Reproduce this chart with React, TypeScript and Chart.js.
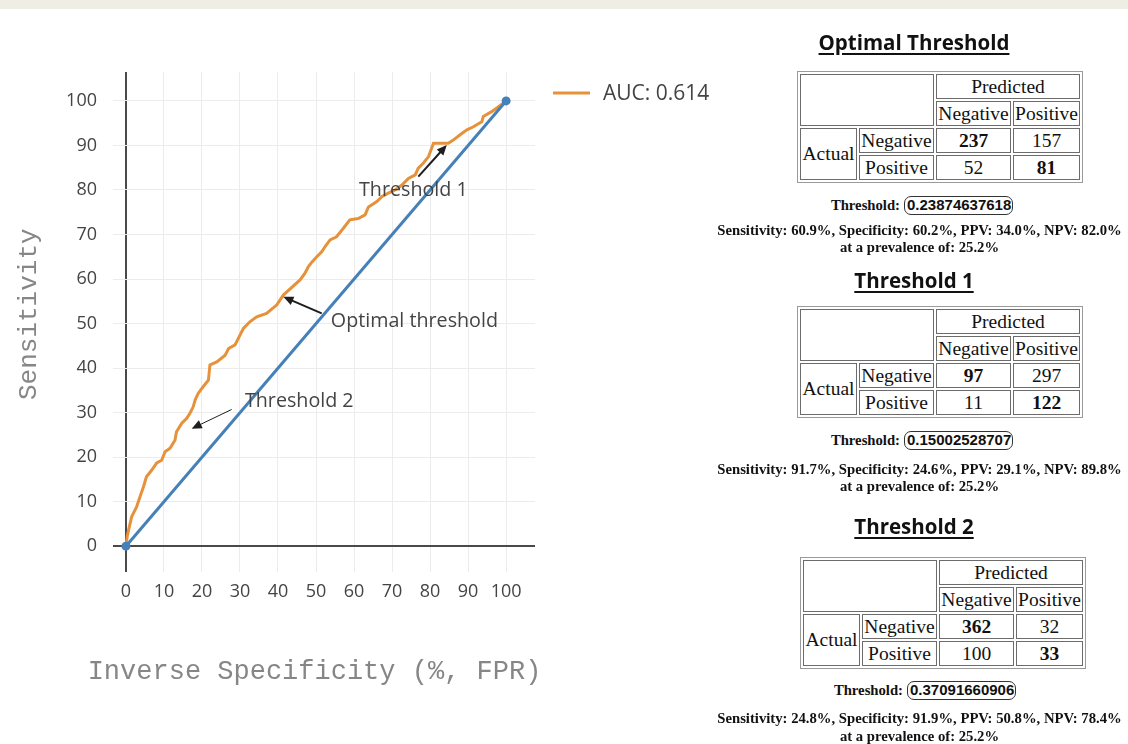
import React, { useEffect, useRef } from 'react';
import { Chart, registerables } from 'chart.js';

Chart.register(...registerables);

// ---------- ROC data ----------
const fprValues = [
  0, 0.4, 1.5, 2.8, 3.7, 4.6, 5.4, 6.8, 8.1, 9.4, 10.3, 11.6, 12.9, 13.3, 14.7, 16.0, 16.8, 17.7,
  18.2, 19.0, 20.3, 21.7, 22.1, 23.9, 26.1, 27.0, 28.7, 30.0, 30.9, 32.6, 34.4, 37.0, 39.7, 41.4,
  45.8, 47.1, 48.0, 48.9, 50.2, 51.5, 52.4, 53.7, 55.4, 57.2, 58.9, 61.1, 62.9, 63.8, 66.0, 67.3,
  69.0, 70.8, 72.6, 74.3, 76.1, 76.9, 78.2, 79.6, 80.9, 84.8, 86.1, 87.9, 89.7, 91.4, 93.6, 94.0,
  96.2, 98.0, 99.7, 100,
];
const tprValues = [
  0, 2.5, 6.6, 8.8, 11.1, 13.3, 15.6, 17.1, 18.7, 19.3, 21.2, 22.0, 23.8, 25.7, 27.6, 28.7, 29.8, 31.3,
  32.8, 34.3, 35.8, 37.3, 40.7, 41.4, 42.9, 44.4, 45.2, 47.4, 48.9, 50.4, 51.5, 52.3, 54.2, 56.4,
  59.8, 61.3, 62.8, 63.8, 65.0, 66.1, 67.3, 68.8, 69.5, 71.4, 73.3, 73.6, 74.4, 76.2, 77.4, 78.5,
  79.3, 80.0, 81.1, 82.6, 83.4, 84.9, 86.0, 87.5, 90.5, 90.5, 91.2, 92.4, 93.5, 94.2, 95.3, 96.5,
  97.6, 98.7, 99.8, 100,
];
const chanceX = [0, 100];
const chanceY = [0, 100];
const xTickValues = [0, 10, 20, 30, 40, 50, 60, 70, 80, 90, 100];
const yTickValues = [0, 10, 20, 30, 40, 50, 60, 70, 80, 90, 100];
const legendLabel = 'AUC: 0.614';
const xTitle = 'Inverse Specificity (%, FPR)';
const yTitle = 'Sensitivity';

// annotation texts and arrow anchors (data coordinates)
const annotationTexts = ['Threshold 1', 'Optimal threshold', 'Threshold 2'];
const annotationTextX = [75.6, 53.9, 31.3];
const annotationTextY = [80.0, 50.6, 32.6];
const annotationAlign = ['center', 'left', 'left'];
const arrowFromX = [76.9, 51.5, 27.8];
const arrowFromY = [83.0, 52.3, 30.7];
const arrowToX = [84.4, 41.4, 17.3];
const arrowToY = [90.1, 56.0, 26.4];
const arrowWidth = [2, 2, 1];

// ---------- confusion-matrix panels ----------
const panelTitles = ['Optimal Threshold', 'Threshold 1', 'Threshold 2'];
const trueNegatives = [237, 97, 362];
const falsePositives = [157, 297, 32];
const falseNegatives = [52, 11, 100];
const truePositives = [81, 122, 33];
const thresholdValues = ['0.23874637618', '0.15002528707', '0.37091660906'];
const sensitivityValues = ['60.9', '91.7', '24.8'];
const specificityValues = ['60.2', '24.6', '91.9'];
const ppvValues = ['34.0', '29.1', '50.8'];
const npvValues = ['82.0', '89.8', '78.4'];
const prevalenceValue = '25.2';

const ORANGE = '#e5923a';
const BLUE = 'rgb(70,128,184)';
const TEXT = '#444';
const TITLE_GRAY = '#868686';
const MONO = '"Liberation Mono", "Courier New", monospace';

const CANVAS_W = 760;
const CANVAS_H = 744;

const panelLayout = [
  { titleTop: 27.5, tableLeft: 797, tableTop: 71, boxLeft: 904, boxTop: 196, statsCenter: 230.7 },
  { titleTop: 266.3, tableLeft: 797, tableTop: 306, boxLeft: 904, boxTop: 430.5, statsCenter: 469.5 },
  { titleTop: 512, tableLeft: 800, tableTop: 557, boxLeft: 907, boxTop: 680.5, statsCenter: 719 },
];

const overlayPlugin = {
  id: 'rocOverlay',
  afterDraw(chart: any) {
    const { ctx, chartArea } = chart;
    const xs = chart.scales.x;
    const ys = chart.scales.y;
    ctx.save();
    // annotations with arrows
    annotationTexts.forEach((txt, i) => {
      const x1 = xs.getPixelForValue(arrowFromX[i]);
      const y1 = ys.getPixelForValue(arrowFromY[i]);
      const x2 = xs.getPixelForValue(arrowToX[i]);
      const y2 = ys.getPixelForValue(arrowToY[i]);
      const ang = Math.atan2(y2 - y1, x2 - x1);
      const head = 11;
      ctx.strokeStyle = '#1e1e1e';
      ctx.fillStyle = '#1e1e1e';
      ctx.lineWidth = arrowWidth[i];
      ctx.beginPath();
      ctx.moveTo(x1, y1);
      ctx.lineTo(x2 - Math.cos(ang) * head * 0.7, y2 - Math.sin(ang) * head * 0.7);
      ctx.stroke();
      ctx.beginPath();
      ctx.moveTo(x2, y2);
      ctx.lineTo(x2 - head * Math.cos(ang - 0.42), y2 - head * Math.sin(ang - 0.42));
      ctx.lineTo(x2 - head * Math.cos(ang + 0.42), y2 - head * Math.sin(ang + 0.42));
      ctx.closePath();
      ctx.fill();
      ctx.font = '19.7px "Open Sans"';
      ctx.fillStyle = TEXT;
      ctx.textAlign = annotationAlign[i];
      ctx.textBaseline = 'middle';
      ctx.fillText(txt, xs.getPixelForValue(annotationTextX[i]), ys.getPixelForValue(annotationTextY[i]));
    });
    // x axis title (drawn without width compression)
    ctx.font = '27px ' + MONO;
    ctx.fillStyle = TITLE_GRAY;
    ctx.textAlign = 'center';
    ctx.textBaseline = 'middle';
    ctx.fillText(xTitle, (chartArea.left + chartArea.right) / 2 - 9.5, chartArea.bottom + 100);
    // legend
    const ly = chartArea.top + 21;
    ctx.strokeStyle = ORANGE;
    ctx.lineWidth = 3;
    ctx.beginPath();
    ctx.moveTo(chartArea.right + 18, ly);
    ctx.lineTo(chartArea.right + 55, ly);
    ctx.stroke();
    ctx.font = '21px "Open Sans"';
    ctx.fillStyle = TEXT;
    ctx.textAlign = 'left';
    ctx.textBaseline = 'middle';
    ctx.fillText(legendLabel, chartArea.right + 68, ly + 1);
    ctx.restore();
  },
};

function RocChart() {
  const ref = useRef<HTMLCanvasElement | null>(null);
  useEffect(() => {
    if (!ref.current) return;
    const zeroColor = (c: any) => (c.tick && c.tick.value === 0 ? '#4a4a4a' : '#ececec');
    const zeroWidth = (c: any) => (c.tick && c.tick.value === 0 ? 2 : 1);
    const chart = new Chart(ref.current, {
      type: 'line',
      data: {
        datasets: [
          {
            label: 'Chance',
            data: chanceX.map((x, i) => ({ x, y: chanceY[i] })),
            borderColor: BLUE,
            backgroundColor: BLUE,
            borderWidth: 3,
            pointRadius: 4.5,
            pointBorderWidth: 0,
            pointBackgroundColor: BLUE,
          },
          {
            label: legendLabel,
            data: fprValues.map((x, i) => ({ x, y: tprValues[i] })),
            borderColor: ORANGE,
            backgroundColor: ORANGE,
            borderWidth: 3,
            pointRadius: 0,
            tension: 0,
          },
        ],
      },
      options: {
        animation: false,
        responsive: false,
        maintainAspectRatio: false,
        layout: { padding: { top: 72, right: CANVAS_W - 535, left: 0, bottom: 0 } },
        plugins: { legend: { display: false }, tooltip: { enabled: false } },
        scales: {
          x: {
            type: 'linear',
            min: -3.4,
            max: 107.6,
            afterBuildTicks: (axis: any) => {
              axis.ticks = xTickValues.map((v) => ({ value: v }));
            },
            afterFit: (scale: any) => {
              scale.height = CANVAS_H - 572;
            },
            border: { display: false },
            grid: { color: zeroColor, lineWidth: zeroWidth, drawTicks: false },
            ticks: {
              padding: 9,
              color: TEXT,
              font: { family: '"Open Sans"', size: 18 },
              maxRotation: 0,
              autoSkip: false,
            },
            title: { display: false },
          },
          y: {
            type: 'linear',
            min: -5.8,
            max: 106.5,
            afterBuildTicks: (axis: any) => {
              axis.ticks = yTickValues.map((v) => ({ value: v }));
            },
            afterFit: (scale: any) => {
              scale.width = 113;
            },
            border: { display: false },
            grid: { color: zeroColor, lineWidth: zeroWidth, drawTicks: false },
            ticks: {
              padding: 16,
              color: TEXT,
              font: { family: '"Open Sans"', size: 18 },
              autoSkip: false,
            },
            title: {
              display: true,
              text: ' ' + yTitle,
              color: TITLE_GRAY,
              font: { family: MONO, size: 26 },
              padding: { top: 14, bottom: 0 },
            },
          },
        },
      },
      plugins: [overlayPlugin],
    } as any);
    return () => chart.destroy();
  }, []);
  return (
    <canvas
      ref={ref}
      width={CANVAS_W}
      height={CANVAS_H}
      style={{ position: 'absolute', left: 0, top: 0, width: CANVAS_W, height: CANVAS_H, display: 'block' }}
    />
  );
}

const serif = '"Liberation Serif", "Times New Roman", serif';

function Matrix({ left, top, i }: { left: number; top: number; i: number }) {
  const cell = (col: string, row: string, extra: any = {}) => ({
    gridColumn: col,
    gridRow: row,
    boxSizing: 'border-box' as const,
    border: '1px solid #6c6c6c',
    display: 'flex',
    alignItems: 'center',
    justifyContent: 'center',
    whiteSpace: 'nowrap' as const,
    ...extra,
  });
  return (
    <div
      style={{
        position: 'absolute',
        left,
        top,
        border: '1px solid #9a9a9a',
        padding: 2,
        display: 'grid',
        gridTemplateColumns: '57px 75px 75px 67px',
        gridTemplateRows: '25px 25px 25px 25px',
        gap: 2,
        fontFamily: serif,
        fontSize: 19.5,
        color: '#111',
        background: '#fff',
      }}
    >
      <div style={cell('1 / 3', '1 / 3')}></div>
      <div style={cell('3 / 5', '1 / 2')}>Predicted</div>
      <div style={cell('3 / 4', '2 / 3')}>Negative</div>
      <div style={cell('4 / 5', '2 / 3')}>Positive</div>
      <div style={cell('1 / 2', '3 / 5')}>Actual</div>
      <div style={cell('2 / 3', '3 / 4')}>Negative</div>
      <div style={cell('3 / 4', '3 / 4', { fontWeight: 'bold' })}>{trueNegatives[i]}</div>
      <div style={cell('4 / 5', '3 / 4')}>{falsePositives[i]}</div>
      <div style={cell('2 / 3', '4 / 5')}>Positive</div>
      <div style={cell('3 / 4', '4 / 5')}>{falseNegatives[i]}</div>
      <div style={cell('4 / 5', '4 / 5', { fontWeight: 'bold' })}>{truePositives[i]}</div>
    </div>
  );
}

function Panel({ i }: { i: number }) {
  const L = panelLayout[i];
  return (
    <>
      <div
        style={{
          position: 'absolute',
          left: 914 - 200,
          width: 400,
          top: L.titleTop,
          height: 28,
          lineHeight: '28px',
          textAlign: 'center',
          fontFamily: '"Open Sans", sans-serif',
          fontWeight: 700,
          fontSize: 20.5,
          color: '#111',
          textDecoration: 'underline',
          textDecorationThickness: '2px',
          textUnderlineOffset: '3px',
        }}
      >
        {panelTitles[i]}
      </div>
      <Matrix left={L.tableLeft} top={L.tableTop} i={i} />
      <div
        style={{
          position: 'absolute',
          left: L.boxLeft - 4 - 120,
          width: 120,
          top: L.boxTop,
          height: 19,
          lineHeight: '19px',
          textAlign: 'right',
          fontFamily: serif,
          fontWeight: 'bold',
          fontSize: 14.7,
          color: '#111',
        }}
      >
        Threshold:
      </div>
      <div
        style={{
          position: 'absolute',
          left: L.boxLeft,
          top: L.boxTop,
          width: 109,
          height: 19,
          boxSizing: 'border-box',
          border: '1.5px solid #333',
          borderRadius: 7,
          overflow: 'hidden',
          whiteSpace: 'nowrap',
          paddingLeft: 2,
          lineHeight: '16px',
          fontFamily: '"Liberation Sans", Arial, sans-serif',
          fontWeight: 'bold',
          fontSize: 15,
          color: '#111',
        }}
      >
        {thresholdValues[i]}
      </div>
      <div
        style={{
          position: 'absolute',
          left: 919.5 - 230,
          width: 460,
          top: L.statsCenter - 8.75,
          lineHeight: '17.5px',
          textAlign: 'center',
          fontFamily: serif,
          fontWeight: 'bold',
          fontSize: 14.7,
          color: '#111',
          whiteSpace: 'nowrap',
        }}
      >
        {`Sensitivity: ${sensitivityValues[i]}%, Specificity: ${specificityValues[i]}%, PPV: ${ppvValues[i]}%, NPV: ${npvValues[i]}%`}
        <br />
        {`at a prevalence of: ${prevalenceValue}%`}
      </div>
    </>
  );
}

export default function App() {
  return (
    <div
      style={{
        position: 'fixed',
        left: 0,
        top: 0,
        width: 1128,
        height: 744,
        overflow: 'hidden',
        background: '#fff',
      }}
    >
      <RocChart />
      <div style={{ position: 'absolute', left: 0, top: 0, width: 1128, height: 9, background: '#efeee4' }} />
      {panelTitles.map((_, i) => (
        <Panel key={i} i={i} />
      ))}
    </div>
  );
}
